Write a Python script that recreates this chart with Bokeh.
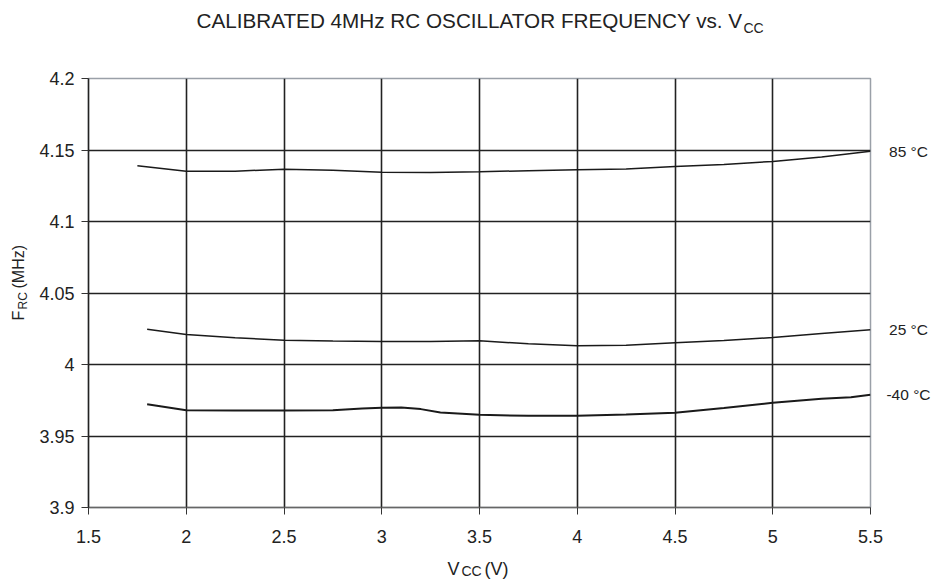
import numpy as np
from bokeh.plotting import figure
from bokeh.models import Label, FixedTicker, Range1d
from bokeh.embed import file_html
from bokeh.resources import INLINE

# ---- data -------------------------------------------------------------
vcc_85 = [1.75, 2.0, 2.25, 2.5, 2.75, 3.0, 3.25, 3.5, 3.75, 4.0, 4.25, 4.5, 4.75, 5.0, 5.25, 5.5]
f_85 = [4.1390, 4.1352, 4.1352, 4.1366, 4.1359, 4.1345, 4.1343, 4.1348, 4.1355, 4.1362,
        4.1367, 4.1385, 4.1399, 4.1420, 4.1451, 4.1492]

vcc_25 = [1.8, 2.0, 2.25, 2.5, 2.75, 3.0, 3.25, 3.5, 3.75, 4.0, 4.25, 4.5, 4.75, 5.0, 5.25, 5.5]
f_25 = [4.0247, 4.0210, 4.0187, 4.0170, 4.0164, 4.0161, 4.0161, 4.0166, 4.0145, 4.0131,
        4.0135, 4.0152, 4.0168, 4.0189, 4.0216, 4.0243]

vcc_m40 = [1.8, 2.0, 2.25, 2.5, 2.75, 2.9, 3.0, 3.1, 3.2, 3.3, 3.5, 3.75, 4.0, 4.25, 4.5,
           4.75, 5.0, 5.25, 5.4, 5.5]
f_m40 = [3.9722, 3.9680, 3.9679, 3.9678, 3.9680, 3.9692, 3.9698, 3.9699, 3.9688, 3.9665,
         3.9648, 3.9641, 3.9641, 3.9650, 3.9662, 3.9695, 3.9732, 3.9760, 3.9771, 3.9788]

temp_labels = ["85 \u00b0C", "25 \u00b0C", "-40 \u00b0C"]

x_ticks = [1.5, 2.0, 2.5, 3.0, 3.5, 4.0, 4.5, 5.0, 5.5]
x_tick_labels = ["1.5", "2", "2.5", "3", "3.5", "4", "4.5", "5", "5.5"]
y_ticks = [3.9, 3.95, 4.0, 4.05, 4.1, 4.15, 4.2]
y_tick_labels = ["3.9", "3.95", "4", "4.05", "4.1", "4.15", "4.2"]

NB = "\u00a0"
title_main = "CALIBRATED 4MHz RC OSCILLATOR FREQUENCY vs. V"
title_sub = "CC"
xlabel_text = "V" + NB * 5 + "(V)"
xlabel_sub = "CC"
ylabel_text = "F" + NB * 5 + "(MHz)"
ylabel_sub = "RC"

# ---- figure -----------------------------------------------------------
FONT = "Liberation Sans"
TXT = "#222222"

p = figure(width=936, height=581, output_backend="svg", toolbar_location=None,
           x_range=Range1d(x_ticks[0], x_ticks[-1]), y_range=Range1d(y_ticks[0], y_ticks[-1]),
           min_border_left=88, min_border_right=66, min_border_top=78, min_border_bottom=74)
p.title.visible = False
p.background_fill_color = "white"
p.border_fill_color = "white"
p.outline_line_color = "#9aa0a8"
p.outline_line_width = 1.5

p.xaxis.ticker = FixedTicker(ticks=x_ticks)
p.yaxis.ticker = FixedTicker(ticks=y_ticks)
p.xaxis.major_label_overrides = dict(zip(x_ticks, x_tick_labels))
p.yaxis.major_label_overrides = dict(zip(y_ticks, y_tick_labels))
for ax in (p.xaxis[0], p.yaxis[0]):
    ax.minor_tick_line_color = None
    ax.major_tick_in = 0
    ax.major_tick_out = 7
    ax.major_tick_line_color = "#333333"
    ax.major_label_text_font = FONT
    ax.major_label_text_font_size = "18px"
    ax.major_label_text_color = TXT
    ax.major_label_standoff = 7
p.xaxis.axis_line_color = "#666666"
p.xaxis.axis_line_width = 1.5
p.yaxis.axis_line_color = "#222222"
p.yaxis.axis_line_width = 1.5
p.xaxis.major_label_standoff = 15

p.grid.grid_line_color = "#222222"
p.grid.grid_line_width = 1.6
p.grid.grid_line_alpha = 1.0

line_col = "#1a1a1a"
p.line(vcc_85, f_85, line_color=line_col, line_width=1.5)
p.line(vcc_25, f_25, line_color=line_col, line_width=1.5)
p.line(vcc_m40, f_m40, line_color=line_col, line_width=2.0)

xs, xe = x_ticks[0], x_ticks[-1]
ys, ye = y_ticks[0], y_ticks[-1]

# texts outside the frame go into side panels (not clipped); positions are
# given relative to the frame (left 88, top 78, bottom 507 in image pixels)
for lab, fv in zip(temp_labels, [f_85[-1], f_25[-1], f_m40[-1]]):
    p.add_layout(Label(x=xe, y=fv, x_offset=38, text=lab, text_align="center",
                       text_baseline="middle", text_font=FONT, text_font_size="15.5px",
                       text_color=TXT), "above")


def lab(text, px, py, size, align="left", angle=0.0, from_bottom=False):
    ay = ys if from_bottom else ye
    ref = 507 if from_bottom else 78
    return Label(x=xs, y=ay, x_offset=px - 88, y_offset=ref - py, text=text,
                 text_align=align, text_baseline="middle", angle=angle,
                 text_font=FONT, text_font_size=size, text_color=TXT)


p.add_layout(lab(title_main, 742, 19.5, "20.7px", align="right"), "above")
p.add_layout(lab(title_sub, 743, 27, "14px"), "right")

# x axis label
p.add_layout(lab(xlabel_text, 447, 568, "18px", from_bottom=True), "below")
p.add_layout(lab(xlabel_sub, 461, 570, "14px", from_bottom=True), "right")

# y axis label (rotated)
a = np.pi / 2
p.add_layout(lab(ylabel_text, 18, 320, "16px", angle=a, from_bottom=True), "left")
p.add_layout(lab(ylabel_sub, 22, 309, "12px", angle=a, from_bottom=True), "left")

open("out.html", "w").write(file_html(p, INLINE))
